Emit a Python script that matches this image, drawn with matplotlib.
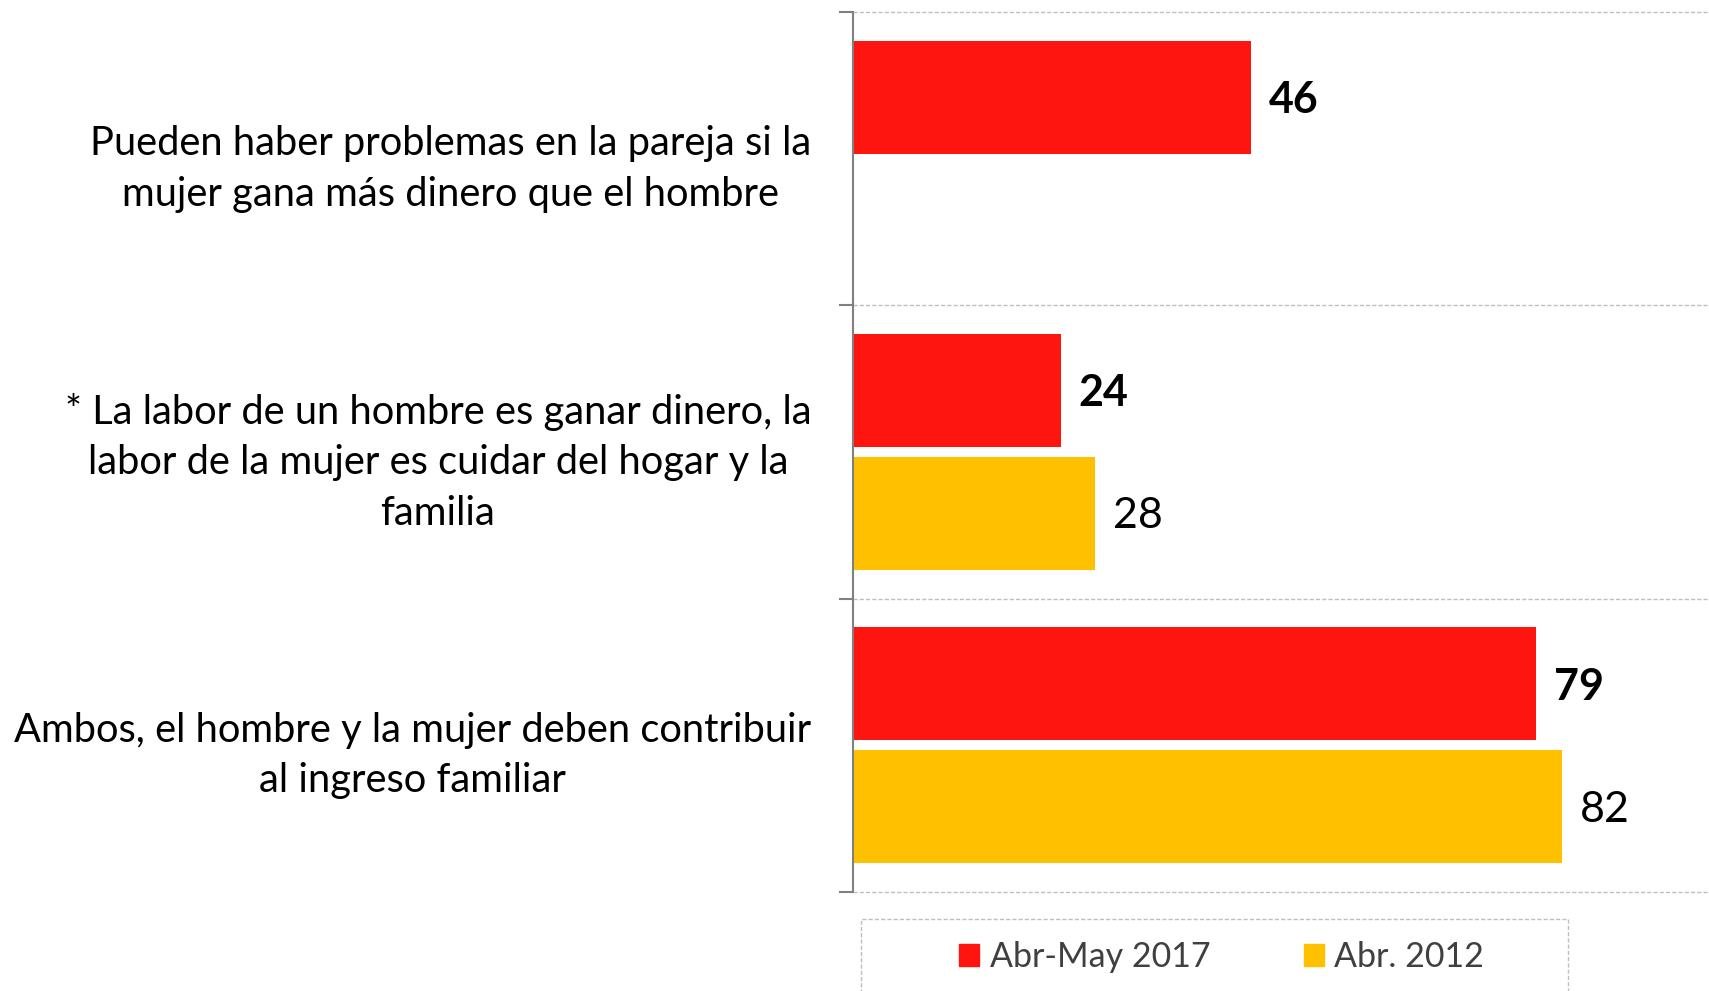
import numpy as np
import matplotlib.pyplot as plt
from matplotlib.patches import Rectangle, Patch

plt.rcParams['font.family'] = ['Lato', 'DejaVu Sans']

categories = ['Pueden haber problemas en la pareja si la\nmujer gana más dinero que el hombre',
              '* La labor de un hombre es ganar dinero, la\nlabor de la mujer es cuidar del hogar y la\nfamilia',
              'Ambos, el hombre y la mujer deben contribuir\nal ingreso familiar']
v2017 = [46, 24, 79]
v2012 = [np.nan, 28, 82]
series_names = ['Abr-May 2017', 'Abr. 2012']

red = '#FF1510'
yellow = '#FFC000'

fig = plt.figure(figsize=(17.09, 9.91), dpi=100)
ax = fig.add_axes([853/1709, 99/991, 1 - 853/1709, 880/991])

y = np.arange(len(categories))
h = 0.385
ax.barh(y - 0.21, v2017, height=h, color=red)
ax.barh(y + 0.21, v2012, height=h, color=yellow)

# value labels, 2017 in bold
for yi, v in zip(y, v2017):
    ax.annotate(str(v), (v, yi - 0.21), xytext=(13, -2), textcoords='offset points',
                va='center', ha='left', fontsize=31, fontweight='bold', color='black')
for yi, v in zip(y, v2012):
    if np.isnan(v):
        continue
    ax.annotate(str(int(v)), (v, yi + 0.21), xytext=(13, -2), textcoords='offset points',
                va='center', ha='left', fontsize=31, color='black')

ax.set_xlim(0, 99)
ax.set_ylim(2.5, -0.5)
ax.set_xticks([])

# ticks on category boundaries, labels in the middle
bounds = [-0.5, 0.5, 1.5, 2.5]
ax.set_yticks(bounds)
ax.set_yticklabels([])
ax.tick_params(axis='y', which='major', length=10, width=1.5, color='#808080', direction='out')
ax.set_yticks(y, minor=True)
ax.set_yticklabels(categories, minor=True, fontsize=28.7, linespacing=1.45,
                   multialignment='center')
ax.tick_params(axis='y', which='minor', length=0, pad=30)

# dashed lines between categories
for b in bounds:
    ax.axhline(b, color='#BFBFBF', linestyle=(0, (3, 1.5)), linewidth=1, clip_on=False, zorder=0)
for s in ['top', 'right', 'bottom']:
    ax.spines[s].set_visible(False)
ax.spines['left'].set_color('#808080')
ax.spines['left'].set_linewidth(1.5)

# legend box (runs off the bottom of the picture)
fig.patches.append(Rectangle((861/1709, -0.02), (1568-861)/1709, (991-919)/991 + 0.02,
                             transform=fig.transFigure, fill=False, edgecolor='#BFBFBF',
                             linestyle=(0, (3, 1.5)), linewidth=1))
handles = [Patch(color=red), Patch(color=yellow)]
leg = fig.legend(handles, series_names, loc='center left', bbox_to_anchor=(959/1709, 34/991),
                 ncol=2, frameon=False, fontsize=24.5, handlelength=0.6, handleheight=0.6,
                 handletextpad=0.3, columnspacing=2.75, borderpad=0, borderaxespad=0)
for t in leg.get_texts():
    t.set_color('#404040')

plt.savefig('out.png', dpi=100)
